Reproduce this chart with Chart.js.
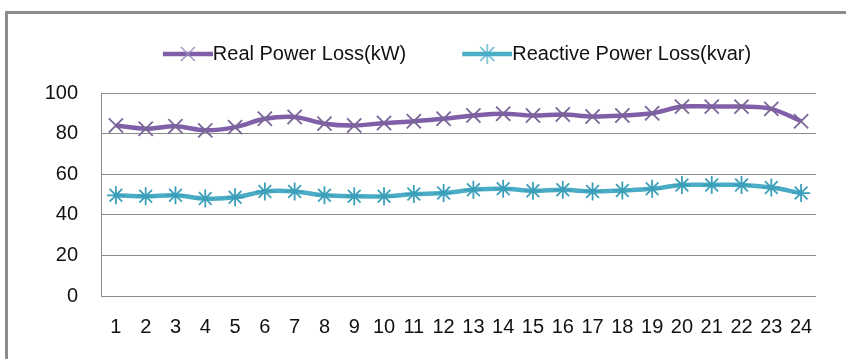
<!DOCTYPE html>
<html>
<head>
<meta charset="utf-8">
<script src="https://cdn.jsdelivr.net/npm/chart.js@4"></script>
<style>
html, body { margin: 0; padding: 0; background: #fff; }
#wrap { position: relative; width: 846px; height: 359px; overflow: hidden; }
#frame { position: absolute; left: 5px; top: 11px; width: 900px; height: 400px;
         border-left: 3px solid #8c8c8c; border-top: 3px solid #8c8c8c; }
#report-chart { position: absolute; left: 0; top: 0; }
</style>
</head>
<body>
<div id="wrap">
  <div id="frame"></div>
  <canvas id="report-chart" width="846" height="359"></canvas>
</div>
<script>
// hours 1..24
const hours = ['1','2','3','4','5','6','7','8','9','10','11','12','13','14','15','16','17','18','19','20','21','22','23','24'];
const realLoss = [84.0, 82.4, 83.6, 81.6, 83.2, 87.3, 88.2, 84.9, 84.0, 85.2, 86.1, 87.3,
                  88.9, 89.8, 88.9, 89.4, 88.4, 88.9, 90.0, 93.3, 93.3, 93.3, 92.2, 86.1];
const reactiveLoss = [49.6, 49.1, 49.6, 48.0, 48.6, 51.5, 51.5, 49.6, 49.1, 49.1, 50.2, 50.7,
                      52.3, 52.8, 51.8, 52.3, 51.5, 52.0, 52.8, 54.7, 54.7, 54.7, 53.4, 50.7];
const yTicks = [0, 20, 40, 60, 80, 100];

const purple = '#7f60a8';
const cyan = '#4bacc6';
const fontFamily = '"Liberation Sans", Arial, sans-serif';

// legend icon: 100px wide, transparent left half, line + marker in right half
function legendIcon(color, star) {
    const c = document.createElement('canvas');
    c.width = 100; c.height = 20;
    const g = c.getContext('2d');
    g.strokeStyle = color;
    g.lineWidth = 4.5;
    g.beginPath(); g.moveTo(50, 10); g.lineTo(100, 10); g.stroke();
    g.lineWidth = 1.3;
    g.strokeStyle = star ? color : '#9a88b8';
    const cx = 75, r = 10;
    g.beginPath();
    g.moveTo(cx - r * 0.7, 10 - r * 0.7); g.lineTo(cx + r * 0.7, 10 + r * 0.7);
    g.moveTo(cx - r * 0.7, 10 + r * 0.7); g.lineTo(cx + r * 0.7, 10 - r * 0.7);
    if (star) {
        g.moveTo(cx, 10 - r); g.lineTo(cx, 10 + r);
    }
    g.stroke();
    return c;
}

const shiftLegend = {
    id: 'shiftLegend',
    afterLayout(chart) {
        chart.legend.left += 29;
        chart.legend.right += 29;
        chart.legend.top -= 19;
        chart.legend.bottom -= 19;
    }
};

const ctx = document.getElementById('report-chart').getContext('2d');
new Chart(ctx, {
    type: 'line',
    data: {
        labels: hours,
        datasets: [{
            label: 'Real Power Loss(kW)',
            data: realLoss,
            borderColor: purple,
            borderWidth: 4.5,
            tension: 0.35,
            pointStyle: 'crossRot',
            pointRadius: 10,
            pointBorderWidth: 1.8,
            pointBorderColor: '#7a6597',
            pointBackgroundColor: purple
        }, {
            label: 'Reactive Power Loss(kvar)',
            data: reactiveLoss,
            borderColor: cyan,
            borderWidth: 4.5,
            tension: 0.35,
            pointStyle: 'star',
            pointRadius: 9,
            pointBorderWidth: 1.8,
            pointBorderColor: '#3c9fb9',
            pointBackgroundColor: cyan
        }]
    },
    options: {
        responsive: false,
        animation: false,
        layout: { padding: { left: 0, right: 30, top: 47, bottom: 0 } },
        plugins: {
            tooltip: { enabled: false },
            legend: {
                position: 'top',
                labels: {
                    color: '#111',
                    font: { family: fontFamily, size: 20 },
                    usePointStyle: true,
                    pointStyleWidth: 80,
                    padding: 16,
                    generateLabels(chart) {
                        return chart.data.datasets.map((ds, i) => ({
                            text: ds.label,
                            pointStyle: legendIcon(ds.borderColor, i === 1),
                            fillStyle: ds.borderColor,
                            strokeStyle: ds.borderColor,
                            lineWidth: 0,
                            datasetIndex: i,
                            fontColor: '#111'
                        }));
                    }
                }
            }
        },
        scales: {
            x: {
                offset: true,
                grid: { display: false, drawTicks: false, offset: true },
                border: { display: false },
                ticks: { color: '#111', font: { family: fontFamily, size: 20 }, padding: 19,
                         maxRotation: 0, autoSkip: false },
                afterFit(s) { s.height = 63; }
            },
            y: {
                min: 0, max: 100,
                afterBuildTicks(s) { s.ticks = yTicks.map(v => ({ value: v })); },
                grid: { color: '#8c8c8c', lineWidth: 1, drawTicks: false },
                border: { display: true, color: '#8c8c8c', width: 1 },
                ticks: { color: '#111', font: { family: fontFamily, size: 20 }, padding: 23 },
                afterFit(s) { s.width = 101; }
            }
        }
    },
    plugins: [shiftLegend]
});
</script>
</body>
</html>
